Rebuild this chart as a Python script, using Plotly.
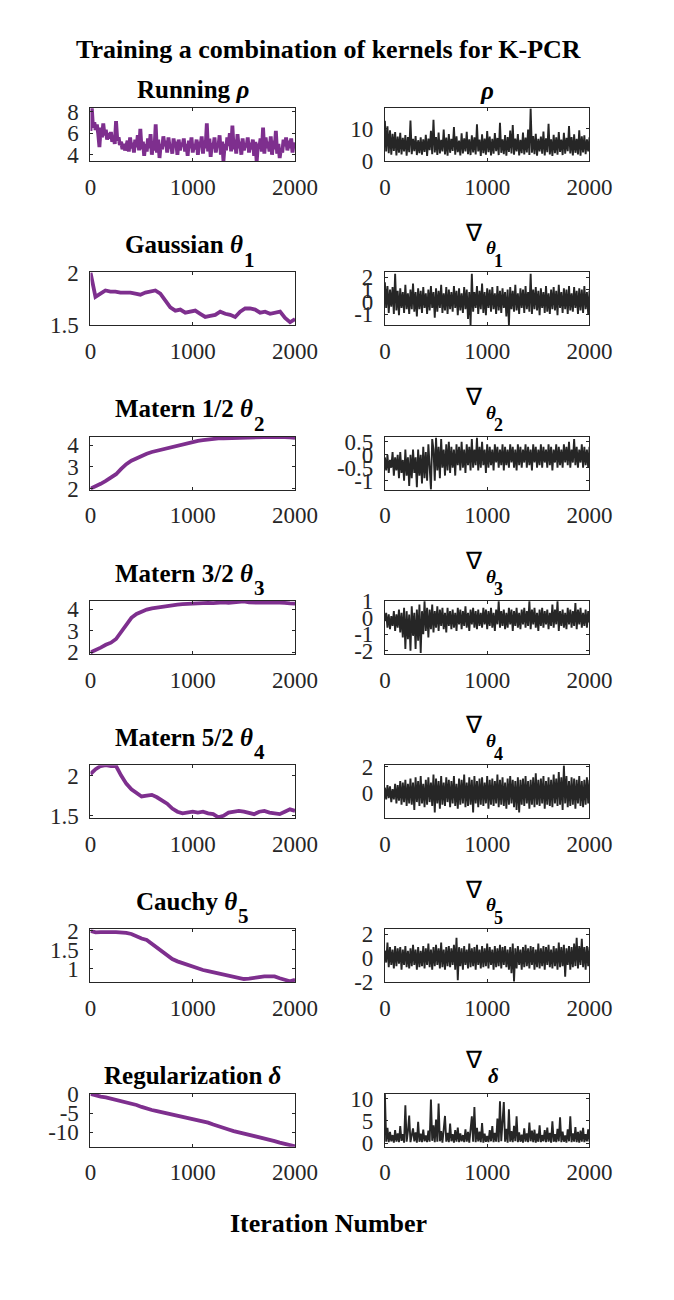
import numpy as np
import plotly.graph_objects as go

# the page body keeps its default 8px margin, so the figure is made
# 16px smaller and every pixel position below is given in page pixels
PAGE_W, PAGE_H, OFF = 674, 1300, 8
W, H = PAGE_W - 2 * OFF, PAGE_H - 2 * OFF
SERIF = "Liberation Serif"
PURPLE = "#7E2F8E"
DARK = "#262626"

# ---- left column: parameter traces ----
running_rho = [
    6.2, 8.4, 6.5, 7.0, 6.3, 6.8, 6.0, 4.7, 6.5, 5.6,
    6.9, 5.8, 6.3, 5.4, 6.0, 5.5, 6.1, 5.2, 5.7, 5.0,
    7.1, 5.3, 5.6, 4.9, 5.2, 4.5, 5.0, 4.4, 4.8, 5.3,
    4.3, 5.6, 4.6, 5.1, 4.2, 5.4, 4.7, 5.8, 4.4, 6.4,
    4.5, 5.2, 3.9, 5.0, 4.3, 5.5, 4.6, 5.9, 4.0, 5.1,
    4.4, 6.8, 4.2, 5.4, 3.7, 5.0, 4.5, 5.7, 4.8, 5.3,
    4.2, 5.6, 4.6, 5.0, 4.1, 5.5, 4.7, 5.2, 4.0, 5.4,
    4.4, 5.1, 4.8, 5.5, 4.3, 5.0, 3.9, 5.3, 4.6, 5.6,
    4.2, 5.0, 4.5, 5.4, 4.0, 5.2, 4.7, 5.7, 4.1, 5.3,
    4.6, 6.9, 4.3, 5.5, 3.8, 5.1, 4.6, 5.6, 4.2, 5.0,
    4.7, 5.8, 4.0, 5.2, 3.4, 5.0, 4.4, 5.6, 4.8, 6.0,
    4.3, 6.7, 4.5, 5.4, 4.1, 5.9, 4.6, 5.2, 4.0, 5.5,
    4.4, 5.0, 4.7, 5.6, 4.2, 5.1, 4.5, 5.4, 3.9, 5.2,
    3.3, 5.0, 4.6, 5.5, 4.3, 6.5, 4.1, 5.6, 4.6, 5.2,
    4.3, 5.7, 4.0, 5.3, 4.5, 6.2, 4.1, 5.0, 3.7, 4.6,
    4.2, 5.4, 4.8, 5.6, 4.4, 5.3, 4.6, 5.5, 4.2, 5.1,
    4.8,
]
theta1 = [2.00, 1.77, 1.80, 1.83, 1.82, 1.82, 1.81, 1.81, 1.81, 1.80,
          1.79, 1.81, 1.82, 1.83, 1.80, 1.73, 1.67, 1.64, 1.65, 1.62,
          1.63, 1.64, 1.61, 1.58, 1.59, 1.60, 1.63, 1.61, 1.60, 1.58,
          1.63, 1.66, 1.66, 1.65, 1.62, 1.63, 1.61, 1.62, 1.63, 1.57,
          1.53, 1.56]
theta2 = [2.00, 2.10, 2.22, 2.35, 2.50, 2.66, 2.90, 3.12, 3.28, 3.40,
          3.52, 3.60, 3.68, 3.74, 3.80, 3.84, 3.90, 3.97, 4.04, 4.09,
          4.14, 4.19, 4.22, 4.26, 4.28, 4.30, 4.31, 4.32, 4.33, 4.34,
          4.36, 4.35, 4.36, 4.37, 4.36, 4.36, 4.37, 4.36, 4.36, 4.35,
          4.33]
theta3 = [2.00, 2.10, 2.22, 2.35, 2.45, 2.62, 2.95, 3.30, 3.60, 3.78,
          3.90, 3.98, 4.04, 4.08, 4.12, 4.15, 4.19, 4.21, 4.23, 4.25,
          4.27, 4.27, 4.28, 4.29, 4.28, 4.30, 4.31, 4.29, 4.30, 4.33,
          4.36, 4.31, 4.30, 4.28, 4.29, 4.30, 4.31, 4.32, 4.29, 4.27,
          4.26]
theta4 = [2.02, 2.08, 2.12, 2.13, 2.12, 2.12, 2.00, 1.90, 1.83, 1.78,
          1.74, 1.75, 1.76, 1.73, 1.69, 1.65, 1.59, 1.55, 1.53, 1.54,
          1.55, 1.54, 1.55, 1.53, 1.52, 1.48, 1.50, 1.54, 1.55, 1.56,
          1.55, 1.53, 1.52, 1.55, 1.56, 1.54, 1.53, 1.52, 1.55, 1.58,
          1.56]
theta5 = [2.00, 1.96, 1.97, 1.98, 1.97, 1.97, 1.97, 1.95, 1.92, 1.85,
          1.80, 1.76, 1.66, 1.55, 1.44, 1.33, 1.25, 1.19, 1.14, 1.09,
          1.04, 1.00, 0.96, 0.93, 0.90, 0.88, 0.86, 0.82, 0.79, 0.75,
          0.72, 0.73, 0.74, 0.77, 0.79, 0.80, 0.79, 0.74, 0.71, 0.66,
          0.70]
delta = [0.0, -0.4, -0.7, -0.9, -1.2, -1.5, -1.9, -2.2, -2.5, -2.9,
         -3.4, -3.9, -4.2, -4.5, -4.8, -5.0, -5.3, -5.7, -6.1, -6.4,
         -6.6, -6.9, -7.2, -7.5, -8.0, -8.5, -8.9, -9.3, -9.7, -10.0,
         -10.3, -10.6, -11.0, -11.3, -11.6, -11.9, -12.3, -12.7, -13.1, -13.4,
         -13.7]

# ---- right column: rho and gradients ----
rho = [
    12.5, 3.0, 10.8, 2.5, 9.6, 2.0, 8.5, 3.2, 9.0, 1.8,
    7.6, 2.6, 8.8, 2.1, 7.2, 3.0, 8.1, 1.7, 7.5, 2.8,
    12.6, 2.2, 6.9, 3.1, 7.8, 1.9, 6.5, 2.5, 7.4, 2.0,
    6.8, 2.9, 8.2, 1.6, 7.0, 3.4, 9.4, 2.2, 12.8, 2.7,
    7.5, 1.9, 8.9, 2.4, 6.6, 3.0, 9.8, 2.1, 7.3, 1.7,
    8.4, 2.6, 6.9, 3.2, 10.6, 2.0, 7.7, 2.8, 6.4, 1.8,
    8.6, 2.4, 7.1, 3.0, 9.1, 2.2, 6.8, 1.9, 8.0, 2.7,
    7.4, 2.1, 11.4, 3.0, 6.7, 1.6, 8.3, 2.5, 7.0, 2.0,
    9.3, 2.8, 7.6, 1.8, 6.9, 2.3, 8.7, 3.1, 7.2, 1.9,
    11.9, 2.6, 6.8, 2.2, 8.1, 1.7, 7.5, 2.9, 9.5, 2.4,
    11.2, 2.0, 7.0, 3.0, 8.4, 1.8, 6.6, 2.5, 8.9, 2.1,
    7.3, 2.7, 9.8, 1.9, 16.3, 2.6, 7.8, 2.2, 8.5, 1.7,
    6.9, 3.0, 7.6, 2.3, 9.2, 1.8, 7.1, 2.8, 11.6, 2.1,
    6.8, 1.6, 8.2, 2.5, 7.4, 2.0, 9.0, 2.9, 6.7, 1.9,
    8.8, 2.3, 7.2, 3.1, 10.9, 2.4, 7.5, 1.8, 8.3, 2.6,
    6.9, 2.1, 9.6, 1.7, 7.7, 2.7, 8.0, 2.2, 6.8, 3.0,
    7.4,
]
grad_t1 = [
    1.6, -0.5, 1.3, -0.9, 1.0, -0.4, 1.2, -1.0, 2.3, -0.7,
    0.9, -1.1, 1.1, -0.5, 0.8, -0.9, 1.4, -0.6, 0.7, -1.0,
    1.0, -0.6, 1.5, -0.8, 0.8, -1.2, 1.1, -0.6, 0.9, -0.9,
    1.2, -0.5, 0.7, -1.0, 1.0, -0.7, 1.3, -0.5, 0.8, -1.3,
    1.1, -0.8, 0.9, -0.5, 1.4, -0.9, 0.7, -0.7, 1.2, -1.0,
    1.0, -0.6, 0.8, -0.8, 1.3, -0.5, 0.9, -1.1, 1.1, -0.7,
    0.7, -0.9, 1.2, -0.6, 1.0, -1.4, 0.8, -1.9, 2.3, -0.8,
    0.8, -0.5, 1.3, -1.0, 0.9, -0.6, 1.5, -0.9, 0.8, -1.1,
    1.1, -0.5, 1.0, -0.8, 1.2, -0.6, 0.7, -1.0, 1.3, -0.7,
    0.9, -0.9, 1.1, -0.5, 0.8, -1.2, 1.0, -1.9, 1.2, -0.6,
    0.9, -0.8, 1.4, -0.7, 0.7, -1.0, 1.1, -0.5, 1.0, -0.9,
    1.3, -0.6, 0.8, -0.8, 2.3, -1.0, 1.0, -0.6, 1.2, -0.7,
    0.9, -1.1, 1.1, -0.5, 0.8, -0.9, 1.3, -0.8, 0.7, -1.0,
    1.0, -0.6, 1.2, -0.7, 0.9, -1.1, 1.4, -0.5, 0.8, -0.9,
    1.1, -0.6, 1.0, -1.0, 1.3, -0.7, 0.7, -0.8, 1.2, -0.5,
    0.9, -1.0, 1.1, -0.7, 1.0, -0.9, 1.3, -0.6, 0.8, -1.0,
    0.9,
]
grad_t2 = [
    -0.1, -0.6, 0.0, -0.7, -0.2, -0.5, 0.1, -0.8, -0.1, -0.6,
    0.0, -0.9, 0.1, -0.7, -0.2, -1.0, 0.2, -0.8, -0.1, -1.2,
    0.0, -0.9, 0.2, -0.7, -0.1, -1.25, 0.2, -0.8, 0.0, -1.1,
    0.3, -0.9, 0.1, -1.0, 0.4, -0.7, -1.33, 0.6, 0.2, -1.0,
    0.65, -0.6, 0.3, -0.9, 0.6, -0.5, 0.2, -0.8, 0.4, -0.6,
    0.5, -0.7, 0.3, -0.5, 0.2, -0.8, 0.4, -0.4, 0.3, -0.6,
    0.5, -0.5, 0.2, -0.7, 0.4, -0.4, 0.3, -0.6, 0.6, -0.5,
    0.2, -0.4, 0.65, -0.6, 0.3, -0.5, 0.5, -0.4, 0.2, -0.7,
    0.4, -0.5, 0.3, -0.4, 0.2, -0.6, 0.4, -0.3, 0.3, -0.5,
    0.2, -0.4, 0.4, -0.6, 0.3, -0.4, 0.2, -0.5, 0.4, -0.3,
    0.3, -0.5, 0.2, -0.6, 0.4, -0.4, 0.3, -0.5, 0.2, -0.3,
    0.4, -0.5, 0.3, -0.4, 0.2, -0.6, 0.4, -0.3, 0.3, -0.5,
    0.2, -0.4, 0.4, -0.5, 0.3, -0.3, 0.2, -0.5, 0.4, -0.4,
    0.3, -0.6, 0.2, -0.3, 0.4, -0.5, 0.3, -0.4, 0.2, -0.5,
    0.4, -0.3, 0.3, -0.4, 0.5, -0.5, 0.2, -0.3, 0.6, -0.4,
    0.3, -0.5, 0.2, -0.3, 0.4, -0.5, 0.3, -0.4, 0.2, -0.5,
    0.3,
]
grad_t3 = [
    -0.2, 0.3, -0.6, 0.2, -0.7, 0.1, -0.5, 0.4, -0.8, 0.2,
    -0.6, 0.5, -0.9, 0.3, -1.2, 0.6, -1.9, 0.4, -1.3, 0.2,
    -2.0, 0.7, -1.1, 0.3, -1.9, 0.5, -1.4, 0.8, -2.15, 0.4,
    -1.0, 1.0, -0.8, 0.6, -1.2, 0.5, -0.7, 0.8, -0.9, 0.4,
    -0.6, 0.7, -0.8, 0.5, -0.5, 0.6, -0.7, 0.3, -0.9, 0.6,
    -0.5, 0.4, -0.7, 0.5, -0.6, 0.3, -0.8, 0.6, -0.4, 0.5,
    -0.7, 0.4, -0.5, 0.7, -0.6, 0.3, -0.8, 0.5, -0.4, 0.6,
    -0.6, 0.4, -0.7, 0.5, -0.5, 0.3, -0.6, 0.6, -0.4, 0.5,
    -0.7, 0.4, -0.5, 0.6, -0.6, 0.3, -0.8, 0.5, -0.4, 1.0,
    -0.6, 0.4, -0.5, 0.5, -0.7, 0.3, -0.6, 0.6, -0.4, 0.5,
    -0.8, 0.4, -0.5, 0.6, -0.6, 0.3, -0.7, 0.5, -0.4, 0.6,
    -0.6, 0.4, -0.5, 1.0, -0.7, 0.5, -0.4, 0.6, -0.6, 0.3,
    -0.8, 0.5, -0.5, 0.6, -0.6, 0.4, -0.4, 0.5, -0.7, 0.3,
    -0.5, 0.8, -0.6, 0.5, -0.4, 1.0, -0.8, 0.4, -0.5, 0.5,
    -0.6, 0.3, -0.7, 0.6, -0.4, 0.5, -0.6, 0.4, -0.5, 0.9,
    -0.7, 0.5, -0.4, 0.6, -0.6, 0.3, -0.5, 0.5, -0.6, 0.4,
    -0.3,
]
grad_t4 = [
    0.4, -0.5, 0.6, -0.4, 0.5, -0.7, 0.3, -0.5, 0.7, -0.8,
    0.6, -0.6, 0.9, -0.9, 0.8, -0.7, 1.0, -1.0, 0.7, -0.8,
    1.1, -0.9, 0.8, -1.3, 1.2, -0.7, 0.9, -1.0, 1.3, -0.8,
    0.7, -1.1, 1.0, -0.9, 1.2, -0.7, 0.8, -1.0, 1.4, -1.5,
    1.1, -0.8, 0.9, -1.2, 1.3, -0.9, 0.8, -1.0, 1.2, -0.7,
    1.0, -1.1, 0.9, -0.8, 1.3, -1.0, 0.7, -1.2, 1.1, -0.9,
    1.0, -0.8, 1.4, -1.1, 0.8, -1.0, 1.2, -0.9, 1.0, -1.5,
    1.3, -0.8, 0.9, -1.1, 1.1, -0.9, 1.2, -1.0, 0.8, -0.8,
    1.3, -1.2, 1.0, -0.9, 1.1, -1.0, 0.9, -0.8, 1.4, -1.1,
    1.0, -0.9, 1.2, -1.0, 0.8, -1.2, 1.1, -0.9, 1.3, -0.8,
    1.0, -1.1, 0.9, -1.3, 1.2, -1.5, 1.0, -0.9, 1.1, -1.0,
    1.3, -0.8, 0.9, -1.2, 1.0, -0.9, 1.2, -1.1, 1.5, -0.9,
    1.0, -1.0, 1.1, -0.8, 1.3, -1.2, 0.9, -0.9, 1.2, -1.0,
    1.0, -1.1, 1.4, -0.8, 1.1, -1.0, 1.6, -0.9, 1.2, -1.3,
    2.1, -0.8, 1.3, -1.1, 0.9, -1.0, 1.2, -0.9, 1.1, -1.2,
    1.0, -0.8, 1.3, -1.0, 0.9, -1.1, 1.0, -0.9, 1.2, -0.8,
    1.0,
]
grad_t5 = [
    0.6, -0.4, 1.3, -0.8, 0.9, -0.6, 0.7, -0.9, 1.0, -0.7,
    0.8, -0.5, 0.9, -1.0, 0.7, -0.6, 1.0, -0.8, 0.6, -0.9,
    0.8, -0.7, 1.1, -0.6, 0.7, -1.0, 0.9, -0.8, 0.6, -0.7,
    1.0, -0.9, 0.8, -0.6, 1.2, -0.8, 0.7, -1.0, 0.9, -0.7,
    1.1, -0.6, 0.8, -0.9, 1.3, -0.8, 0.7, -1.0, 0.9, -0.7,
    1.0, -0.8, 0.8, -0.6, 1.1, -1.0, 1.7, -1.9, 0.9, -0.7,
    0.8, -1.0, 1.0, -0.6, 0.7, -0.9, 1.2, -0.8, 0.8, -0.7,
    0.9, -1.0, 1.1, -0.6, 0.7, -0.9, 1.0, -0.8, 0.8, -0.7,
    1.2, -0.9, 0.9, -0.6, 0.7, -1.0, 1.0, -0.8, 0.8, -0.7,
    1.1, -0.9, 0.9, -0.6, 1.0, -0.8, 0.7, -1.0, 0.9, -1.3,
    1.2, -2.0, 0.8, -0.9, 1.0, -0.6, 0.7, -1.0, 0.9, -0.8,
    1.1, -0.7, 0.8, -0.9, 1.0, -0.6, 0.9, -1.0, 0.7, -0.8,
    1.2, -0.9, 0.8, -0.7, 1.0, -1.0, 0.9, -0.6, 1.1, -0.8,
    0.7, -0.9, 1.0, -0.7, 0.8, -1.0, 1.3, -0.8, 0.9, -0.7,
    1.1, -1.6, 0.8, -0.6, 1.0, -1.0, 0.9, -0.8, 1.2, -0.7,
    1.7, -0.9, 1.0, -0.6, 1.6, -0.8, 0.9, -1.0, 1.0, -0.7,
    0.9,
]
grad_d = [
    11.0, 0.3, 3.4, 0.2, 2.5, 0.4, 1.8, 0.1, 2.9, 0.3,
    2.2, 0.2, 3.8, 0.5, 2.0, 0.1, 8.5, 0.3, 2.6, 6.2,
    0.2, 1.9, 3.3, 0.4, 2.4, 0.1, 4.8, 0.3, 2.1, 0.2,
    3.0, 0.4, 1.7, 0.2, 2.8, 0.3, 9.8, 0.5, 4.0, 0.2,
    5.3, 0.3, 8.9, 0.4, 2.7, 0.1, 3.6, 6.1, 0.3, 2.3,
    0.2, 4.4, 0.4, 2.0, 0.1, 2.9, 0.3, 3.5, 0.2, 2.2,
    0.4, 1.8, 0.2, 3.1, 0.3, 2.5, 0.1, 4.2, 6.0, 0.3,
    8.1, 0.2, 3.4, 0.4, 2.6, 0.2, 4.5, 0.1, 2.1, 0.3,
    1.6, 0.2, 2.9, 0.4, 3.8, 0.2, 2.3, 0.3, 5.5, 0.2,
    9.4, 0.4, 5.1, 9.2, 0.3, 3.2, 0.1, 7.6, 0.3, 2.7,
    0.2, 3.9, 0.4, 6.0, 0.2, 2.4, 0.3, 1.9, 0.1, 3.3,
    0.3, 2.2, 0.2, 4.6, 0.4, 2.8, 0.2, 3.0, 0.1, 2.1,
    0.3, 4.0, 0.2, 1.8, 0.4, 2.9, 0.2, 3.5, 0.3, 2.3,
    0.1, 4.9, 0.3, 2.0, 0.2, 3.2, 0.4, 5.8, 0.2, 2.6,
    0.3, 1.7, 0.1, 3.1, 0.4, 6.0, 0.2, 2.2, 0.3, 3.6,
    0.2, 2.5, 0.1, 2.8, 0.3, 3.4, 0.2, 2.0, 0.4, 3.1,
    0.3,
]

left_series = [running_rho, theta1, theta2, theta3, theta4, theta5, delta]
right_series = [rho, grad_t1, grad_t2, grad_t3, grad_t4, grad_t5, grad_d]

left_ranges = [[3.4, 8.3], [1.5, 2.0], [1.95, 4.38], [1.93, 4.38],
               [1.47, 2.13], [0.63, 2.04], [-13.75, 0.05]]
left_ticks = [[4, 6, 8], [1.5, 2], [2, 3, 4], [2, 3, 4], [1.5, 2], [1, 1.5, 2], [-10, -5, 0]]
right_ranges = [[0, 16.4], [-1.93, 2.4], [-1.34, 0.69], [-2.2, 1.02],
                [-1.93, 2.12], [-2.08, 2.4], [-0.8, 11.1]]
right_ticks = [[0, 10], [-1, 0, 1, 2], [-1, -0.5, 0, 0.5], [-2, -1, 0, 1],
               [-2, 0, 2], [-2, 0, 2], [0, 5, 10]]

x_ticks = [0, 1000, 2000]

# layout in page pixels
ROW_TOP0, ROW_STEP, AX_H = 98, 167.5, 54
COL_X = [(88, 302), (396, 610)]


def px_x(x):
    return (x - OFF) / W


def px_y(y):
    return 1 - (y - OFF) / H


fig = go.Figure()
layout = dict(
    width=W, height=H, margin=dict(l=0, r=0, t=0, b=0),
    paper_bgcolor="white", plot_bgcolor="white", showlegend=False,
    font=dict(family=SERIF, color=DARK),
)

for r in range(7):
    top = ROW_TOP0 + ROW_STEP * r
    for c in range(2):
        k = 2 * r + c + 1
        sfx = str(k) if k > 1 else ""
        vals = left_series[r] if c == 0 else right_series[r]
        yr = left_ranges[r] if c == 0 else right_ranges[r]
        yt = left_ticks[r] if c == 0 else right_ticks[r]
        xs = np.linspace(0, 2000, len(vals))
        fig.add_trace(go.Scatter(
            x=xs, y=vals, mode="lines",
            line=dict(color=PURPLE if c == 0 else DARK, width=3.8 if c == 0 else 1.9),
            xaxis="x" + sfx, yaxis="y" + sfx, hoverinfo="skip",
        ))
        x0, x1 = COL_X[c]
        common = dict(
            showline=True, linecolor=DARK, linewidth=1, mirror="ticks",
            ticks="inside", ticklen=3, tickcolor=DARK, tickwidth=1,
            showgrid=False, zeroline=False,
            tickfont=dict(family=SERIF, size=23, color=DARK),
        )
        layout["xaxis" + sfx] = dict(
            domain=[px_x(x0), px_x(x1)], anchor="y" + sfx,
            range=[0, 2000], tickvals=x_ticks, ticktext=["%g" % v for v in x_ticks],
            ticklabelstandoff=5, **common)
        layout["yaxis" + sfx] = dict(
            domain=[px_y(top + AX_H), px_y(top)], anchor="x" + sfx,
            range=yr, tickvals=yt, ticktext=["%g" % v for v in yt],
            ticklabelstandoff=6, **common)


def text_at(text, x_px, base_px, size=25, xanchor="center", color="black"):
    # baseline of the text sits at base_px
    return dict(text=text, x=px_x(x_px), y=px_y(base_px + 0.216 * size),
                xref="paper", yref="paper", xanchor=xanchor, yanchor="bottom",
                showarrow=False, borderpad=0, borderwidth=0,
                font=dict(family=SERIF, size=size, color=color))


ann = []
ann.append(text_at("<b>Training a combination of kernels for K-PCR</b>", 337, 47, size=26))
ann.append(text_at("<b>Iteration Number</b>", 337, 1245, size=26))

tops = [ROW_TOP0 + ROW_STEP * r for r in range(7)]
# left titles
ann.append(text_at("<b>Running <i>ρ</i></b>", 195, tops[0] - 11))
left_sub = [("Gaussian", 248, "1"), ("Matern 1/2", 258, "2"), ("Matern 3/2", 258, "3"),
            ("Matern 5/2", 258, "4"), ("Cauchy", 241, "5")]
for i, (name, split, sub) in enumerate(left_sub):
    t = tops[i + 1]
    ann.append(text_at("<b>%s <i>θ</i></b>" % name, split, t - 20, xanchor="right"))
    ann.append(text_at("<b>%s</b>" % sub, split + 1, t - 5.5, size=21, xanchor="left"))
ann.append(text_at("<b>Regularization <i>δ</i></b>", 195, tops[6] - 10))

# right titles
ann.append(text_at("<b><i>ρ</i></b>", 503, tops[0] - 10))
for i in range(1, 6):
    t = tops[i]
    ann.append(text_at("∇", 489.5, t - 32.5, size=24))
    ann.append(text_at("<b><i>θ</i></b>", 507, t - 18.5, size=19))
    ann.append(text_at("<b>%d</b>" % i, 515, t - 5.5, size=18))
ann.append(text_at("∇", 489.5, tops[6] - 26, size=24))
ann.append(text_at("<b><i>δ</i></b>", 510, tops[6] - 10, size=21))

layout["annotations"] = ann
fig.update_layout(**layout)
fig.write_html("out.html")
